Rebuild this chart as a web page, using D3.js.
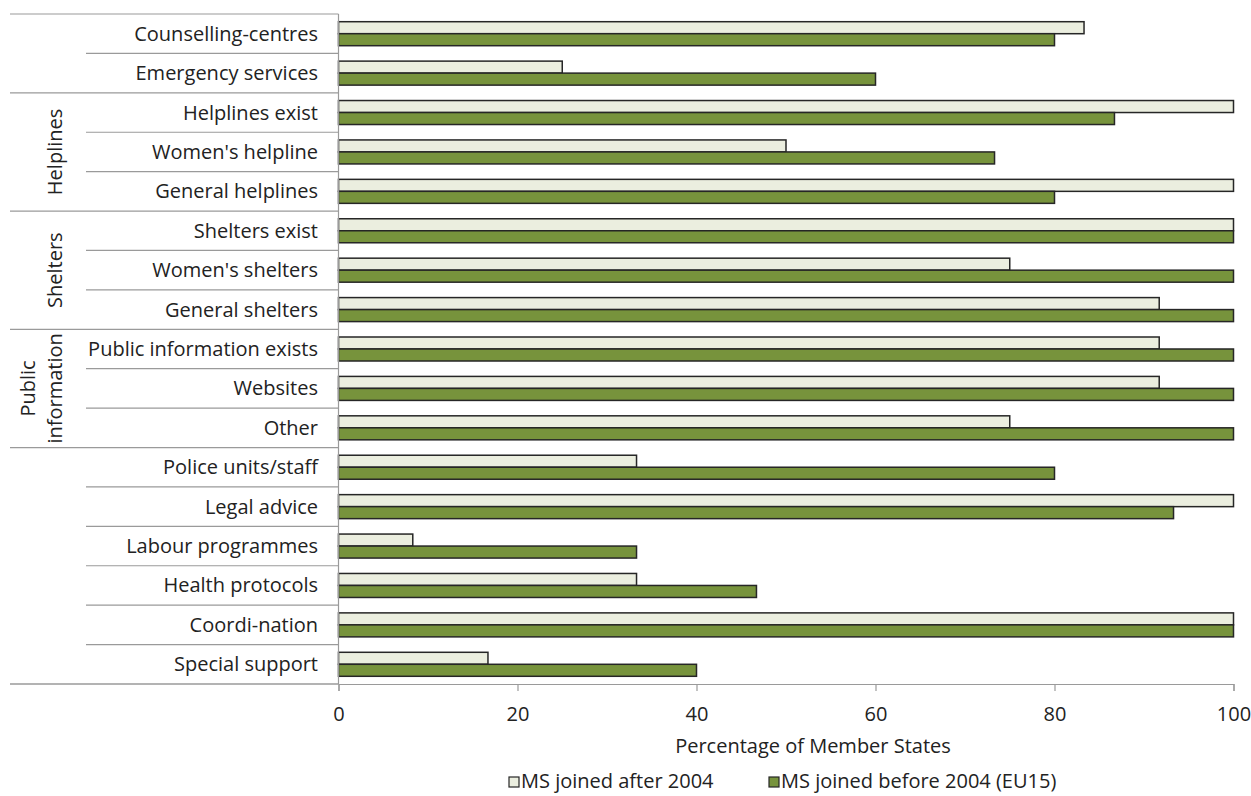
<!DOCTYPE html>
<html>
<head>
<meta charset="utf-8">
<script src="https://cdn.jsdelivr.net/npm/d3@7/dist/d3.min.js"></script>
<style>
html,body{margin:0;padding:0;background:#fff;}
text{font-family:"Open Sans",sans-serif;fill:#222;}
</style>
</head>
<body>
<svg id="chart" width="1251" height="796"></svg>
<script>
const categories = ["Counselling-centres","Emergency services","Helplines exist","Women's helpline","General helplines","Shelters exist","Women's shelters","General shelters","Public information exists","Websites","Other","Police units/staff","Legal advice","Labour programmes","Health protocols","Coordi-nation","Special support"];
const after2004 = [83.3,25,100,50,100,100,75,91.7,91.7,91.7,75,33.3,100,8.3,33.3,100,16.7];
const before2004 = [80,60,86.7,73.3,80,100,100,100,100,100,100,80,93.3,33.3,46.7,100,40];
const seriesNames = ["MS joined after 2004","MS joined before 2004 (EU15)"];
const seriesColors = ["#ebeedf","#77933c"];
const groups = [
  {lines:["Helplines"], from:"Helplines exist", to:"General helplines"},
  {lines:["Shelters"], from:"Shelters exist", to:"General shelters"},
  {lines:["Public","information"], from:"Public information exists", to:"Other"}
];
const groupBoundaries = ["Emergency services","General helplines","General shelters","Other","Special support"];
const xTicks = [0,20,40,60,80,100];
const xTitle = "Percentage of Member States";

(function(){
const svg = d3.select("#chart");
const pLeft = 338.5, pRight = 1233.5, pTop = 14, pBottom = 684;
const x = d3.scaleLinear().domain([0,100]).range([pLeft,pRight]);
const y = d3.scaleBand().domain(categories).range([pTop,pBottom]).padding(0);
const sub = d3.scaleBand().domain([0,1]).range([0,24]);
const barOffset = (y.bandwidth()-24)/2;
const FS = 20;

// separators
const sepG = svg.append("g");
sepG.append("line").attr("x1",10).attr("x2",pLeft).attr("y1",pTop).attr("y2",pTop)
  .attr("stroke","#9a9a9a").attr("stroke-width",1.2);
categories.forEach(c=>{
  const yy = y(c)+y.bandwidth();
  const isGroup = groupBoundaries.includes(c);
  sepG.append("line").attr("x1",isGroup?10:86).attr("x2",pLeft)
    .attr("y1",yy).attr("y2",yy).attr("stroke","#9a9a9a").attr("stroke-width",1.2);
});

// bars
const rows = categories.map((c,i)=>({c, vals:[after2004[i],before2004[i]]}));
const rg = svg.append("g").selectAll("g").data(rows).join("g")
  .attr("transform",d=>`translate(0,${y(d.c)+barOffset})`);
rg.selectAll("rect").data(d=>d.vals.map((v,k)=>({v,k}))).join("rect")
  .attr("x",x(0)).attr("y",d=>sub(d.k)).attr("height",sub.bandwidth())
  .attr("width",d=>x(d.v)-x(0))
  .attr("fill",d=>seriesColors[d.k]).attr("stroke","#262626").attr("stroke-width",1.5);

// y axis line
svg.append("line").attr("x1",pLeft).attr("x2",pLeft).attr("y1",pTop).attr("y2",pBottom)
  .attr("stroke","#9a9a9a").attr("stroke-width",1.2);

// category labels
svg.append("g").selectAll("text").data(categories).join("text")
  .attr("x",318).attr("y",d=>y(d)+y.bandwidth()/2).attr("dy","0.35em")
  .attr("text-anchor","end").attr("font-size",FS).text(d=>d);

// group labels
const lineX = {1:[62], 2:[35,62]};
groups.forEach(g=>{
  const cy = (y(g.from) + y(g.to)+y.bandwidth())/2;
  const n = g.lines.length;
  g.lines.forEach((l,i)=>{
    svg.append("text").attr("transform",`translate(${lineX[n][i]},${cy}) rotate(-90)`)
      .attr("text-anchor","middle").attr("font-size",FS).text(l);
  });
});

// x axis
const xAxis = d3.axisBottom(x).tickValues(xTicks).tickSize(7).tickPadding(16).tickFormat(d3.format("d"));
const ax = svg.append("g").attr("transform",`translate(0,${pBottom})`).call(xAxis);
ax.select(".domain").attr("stroke","#9a9a9a").attr("stroke-width",1.2);
ax.selectAll(".tick line").attr("stroke","#9a9a9a").attr("stroke-width",1.2);
ax.selectAll(".tick text").attr("font-size",FS).attr("font-family","Open Sans, sans-serif").attr("fill","#222");
svg.append("line").attr("x1",10).attr("x2",pLeft).attr("y1",pBottom).attr("y2",pBottom)
  .attr("stroke","#9a9a9a").attr("stroke-width",1.2);

svg.append("text").attr("x",813).attr("y",746).attr("dy","0.35em").attr("text-anchor","middle")
  .attr("font-size",FS).text(xTitle);

// legend
const legX = [509,769];
seriesNames.forEach((s,i)=>{
  svg.append("rect").attr("x",legX[i]).attr("y",777).attr("width",10).attr("height",10)
    .attr("fill",seriesColors[i]).attr("stroke","#262626").attr("stroke-width",1.2);
  svg.append("text").attr("x",legX[i]+12).attr("y",781).attr("dy","0.35em")
    .attr("font-size",FS).text(s);
});
})();
</script>
</body>
</html>
